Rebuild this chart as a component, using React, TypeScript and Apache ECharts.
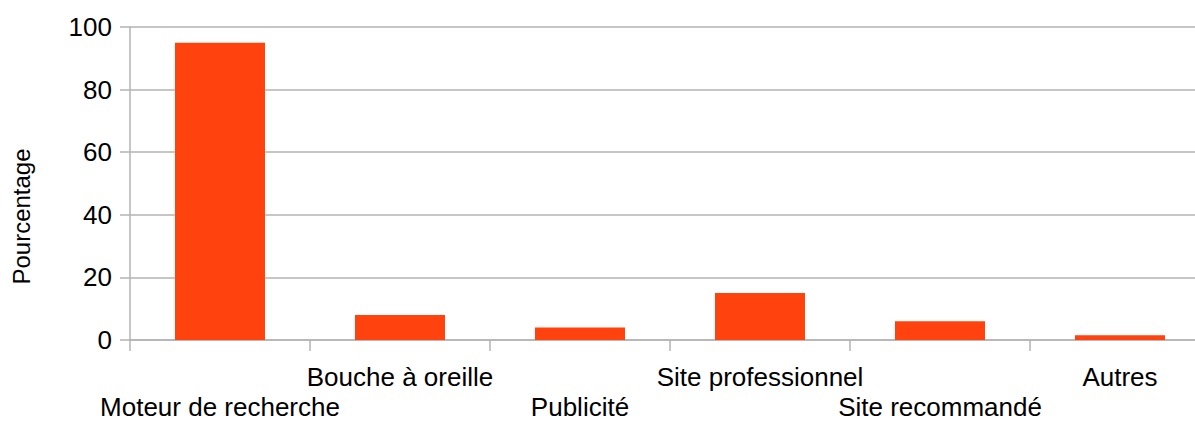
import React, { useEffect, useRef } from "react";
import * as echarts from "echarts";

const categories = [
  "Moteur de recherche",
  "Bouche à oreille",
  "Publicité",
  "Site professionnel",
  "Site recommandé",
  "Autres",
];
const values = [95, 8, 4, 15, 6, 1.5];
const yTicks = { min: 0, max: 100, interval: 20 };
const yName = "Pourcentage";

export default function App() {
  const ref = useRef<HTMLDivElement>(null);
  useEffect(() => {
    if (!ref.current) return;
    const chart = echarts.init(ref.current, null, { renderer: "svg" });
    const font = "'Liberation Sans', Arial, sans-serif";
    const gray = "#b3b3b3";
    chart.setOption({
      animation: false,
      grid: { left: 130, right: -15, top: 27, bottom: 81, outerBoundsMode: "none", containLabel: false },
      xAxis: {
        type: "category",
        data: categories,
        boundaryGap: true,
        axisLine: { lineStyle: { color: gray, width: 1.5 } },
        axisTick: {
          show: true,
          alignWithLabel: false,
          interval: 0,
          length: 11,
          lineStyle: { color: gray, width: 1.5 },
        },
        axisLabel: {
          interval: 0,
          margin: 22,
          color: "#000",
          fontFamily: font,
          fontSize: 26,
          lineHeight: 30,
          formatter: (v: string) => {
            const i = categories.indexOf(v);
            return i % 2 === 0 ? "\n" + v : v;
          },
        },
        splitLine: { show: false },
      },
      yAxis: {
        type: "value",
        min: yTicks.min,
        max: yTicks.max,
        interval: yTicks.interval,
        name: yName,
        nameLocation: "middle",
        nameGap: 97,
        nameTextStyle: { color: "#000", fontFamily: font, fontSize: 24, padding: [0, 66, 0, 0] },
        axisLine: { show: true, lineStyle: { color: gray, width: 1.5 } },
        axisTick: { show: true, length: 10, lineStyle: { color: gray, width: 1.5 } },
        axisLabel: {
          margin: 18,
          color: "#000",
          fontFamily: font,
          fontSize: 26,
        },
        splitLine: { show: true, lineStyle: { color: gray, width: 1.5 } },
      },
      series: [
        {
          type: "bar",
          data: values,
          barWidth: "50%",
          itemStyle: { color: "#ff420e" },
        },
      ],
    });
    return () => chart.dispose();
  }, []);
  return (
    <div
      ref={ref}
      style={{ position: "fixed", left: 0, top: 0, width: 1195, height: 421, background: "#fff" }}
    />
  );
}
